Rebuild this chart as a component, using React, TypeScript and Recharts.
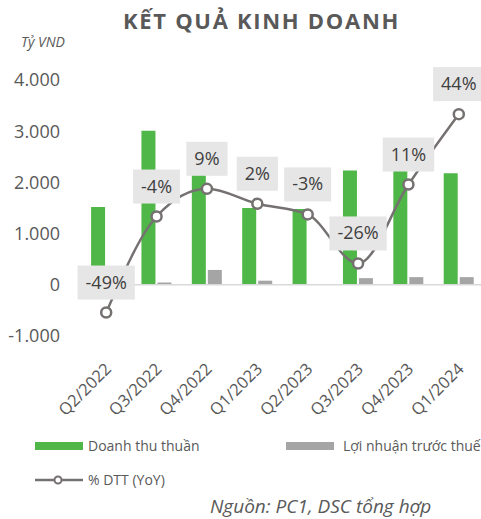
import { ComposedChart, Bar, Line, XAxis, YAxis, ReferenceLine, LabelList } from 'recharts';

const quarters = ['Q2/2022', 'Q3/2022', 'Q4/2022', 'Q1/2023', 'Q2/2023', 'Q3/2023', 'Q4/2023', 'Q1/2024'];
const revenue = [1520, 3010, 2260, 1500, 1480, 2230, 2330, 2180];
const profit = [10, 45, 290, 80, 2, 130, 150, 150];
const yoy = [-49, -4, 9, 2, -3, -26, 11, 44];
const leftTicks = [-1000, 0, 1000, 2000, 3000, 4000];

const FONT = "'Open Sans', sans-serif";
const TEXT = '#595959';
const GREEN = '#4FB748';
const GREY = '#A5A5A5';
const LINE = '#767171';

const data = quarters.map((q, i) => ({ q, revenue: revenue[i], profit: profit[i], yoy: yoy[i] }));

const fmt = (v: number) => v.toLocaleString('de-DE');

let ctx: CanvasRenderingContext2D | null = null;
function textWidth(s: string, font: string) {
  if (!ctx) ctx = document.createElement('canvas').getContext('2d');
  if (!ctx) return s.length * 10;
  ctx.font = font;
  return ctx.measureText(s).width;
}

function XTick(props: any) {
  const { x, y, payload } = props;
  return (
    <g transform={`translate(${x},${y})`}>
      <text x={6} y={34} transform="rotate(-45 6 34)" textAnchor="end" fill={TEXT} fontSize={16.5} fontFamily={FONT}>
        {payload.value}
      </text>
    </g>
  );
}

function YoyLabel(props: any) {
  const { x, y, value } = props;
  const s = `${value}%`;
  const w = textWidth(s, `18px ${FONT}`) + 16;
  return (
    <g>
      <rect x={x - w / 2} y={y - 47} width={w} height={34} fill="#E7E6E6" />
      <text x={x} y={y - 24} textAnchor="middle" fill="#404040" fontSize={18} fontFamily={FONT}>
        {s}
      </text>
    </g>
  );
}

export default function App() {
  return (
    <div style={{ position: 'absolute', left: 0, top: 0, width: 481, height: 519, overflow: 'hidden', background: '#fff', fontFamily: FONT }}>
      <div style={{ position: 'absolute', left: 1, width: 521, top: 5, textAlign: 'center', fontSize: 22, fontWeight: 700, letterSpacing: 1.7, color: TEXT, whiteSpace: 'nowrap' }}>
        KẾT QUẢ KINH DOANH
      </div>
      <div style={{ position: 'absolute', left: 21, top: 32, fontSize: 14, fontStyle: 'italic', color: TEXT }}>Tỷ VND</div>

      <div style={{ position: 'absolute', left: 0, top: 0 }}>
        <ComposedChart width={490} height={440} data={data} margin={{ top: 80, right: 6, bottom: 0, left: 0 }} barCategoryGap="20%" barGap={2}>
          <XAxis dataKey="q" xAxisId="x" height={104} axisLine={false} tickLine={false} tickSize={0} tickMargin={0} tick={<XTick />} interval={0} />
          <YAxis
            yAxisId="left"
            width={81}
            domain={[-1000, 4000]}
            ticks={leftTicks}
            tickFormatter={fmt}
            axisLine={false}
            tickLine={false}
            tickSize={0}
            tickMargin={21}
            tick={{ fill: TEXT, fontSize: 18, fontFamily: FONT }}
          />
          <YAxis yAxisId="right" orientation="right" hide domain={[-60, 60]} />
          <ReferenceLine y={0} yAxisId="left" xAxisId="x" stroke="#D9D9D9" strokeWidth={1.5} />
          <Bar dataKey="revenue" xAxisId="x" yAxisId="left" fill={GREEN} isAnimationActive={false} />
          <Bar dataKey="profit" xAxisId="x" yAxisId="left" fill={GREY} isAnimationActive={false} />
          <Line
            dataKey="yoy"
            xAxisId="x"
            yAxisId="right"
            type="monotone"
            stroke={LINE}
            strokeWidth={2.5}
            dot={{ r: 5, fill: '#fff', stroke: LINE, strokeWidth: 2.5 }}
            activeDot={false}
            isAnimationActive={false}
          >
            <LabelList dataKey="yoy" content={<YoyLabel />} />
          </Line>
        </ComposedChart>
      </div>

      <div style={{ position: 'absolute', left: 35, top: 442, width: 48, height: 8, background: GREEN }} />
      <div style={{ position: 'absolute', left: 88, top: 436, fontSize: 14, color: TEXT, whiteSpace: 'nowrap' }}>Doanh thu thuần</div>
      <div style={{ position: 'absolute', left: 286, top: 442, width: 48, height: 8, background: GREY }} />
      <div style={{ position: 'absolute', left: 343, top: 436, fontSize: 14, color: TEXT, whiteSpace: 'nowrap' }}>Lợi nhuận trước thuế</div>
      <svg style={{ position: 'absolute', left: 30, top: 472 }} width={60} height={16}>
        <line x1={5} y1={8} x2={53} y2={8} stroke={LINE} strokeWidth={2.5} />
        <circle cx={28} cy={8} r={3.5} fill="#fff" stroke={LINE} strokeWidth={2} />
      </svg>
      <div style={{ position: 'absolute', left: 88, top: 470, fontSize: 14, color: TEXT, whiteSpace: 'nowrap' }}>% DTT (YoY)</div>
      <div style={{ position: 'absolute', left: 210, top: 493, fontSize: 19, fontStyle: 'italic', color: TEXT, whiteSpace: 'nowrap' }}>
        Nguồn: PC1, DSC tổng hợp
      </div>
    </div>
  );
}
